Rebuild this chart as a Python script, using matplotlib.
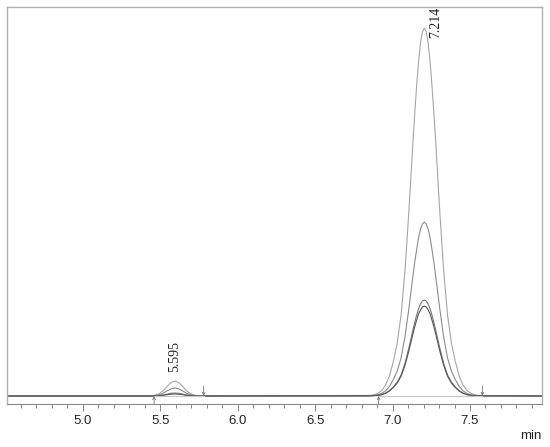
import matplotlib
matplotlib.use("Agg")
import matplotlib.pyplot as plt

# retention times (min), shared by all traces
t_start = [4.51]
t_small = [5.419, 5.444, 5.469, 5.494, 5.519, 5.544, 5.569, 5.594,
           5.619, 5.644, 5.669, 5.694, 5.719, 5.744, 5.769]
t_big = [6.855, 6.88, 6.905, 6.93, 6.955, 6.98, 7.005, 7.03, 7.055, 7.08,
         7.105, 7.13, 7.1425, 7.155, 7.1675, 7.18, 7.1925, 7.205, 7.2175,
         7.23, 7.2425, 7.255, 7.2675, 7.28, 7.305, 7.33, 7.355, 7.38, 7.405,
         7.43, 7.455, 7.48, 7.505, 7.53, 7.555]
t_end = [7.965]

# signal of each trace (arbitrary units), small peak then big peak
s1_small = [0.05, 0.25, 0.9, 2.4, 5.3, 9.6, 13.4, 15, 13.4, 9.6, 5.3, 2.4, 0.9, 0.25, 0.05]
s2_small = [0.03, 0.13, 0.5, 1.3, 2.8, 5.1, 7.1, 8, 7.1, 5.1, 2.8, 1.3, 0.5, 0.13, 0.03]
s3_small = [0, 0.05, 0.18, 0.5, 1.05, 1.9, 2.7, 3, 2.7, 1.9, 1.05, 0.5, 0.18, 0.05, 0]
s4_small = [0, 0.03, 0.12, 0.32, 0.7, 1.3, 1.8, 2, 1.8, 1.3, 0.7, 0.32, 0.12, 0.03, 0]

s1_big = [0.55, 1.3, 2.8, 5.5, 11, 20, 34.6, 53, 81, 125, 184, 250, 281, 309, 334, 352.5, 364, 368,
          364, 352.5, 334, 309, 281, 250, 184, 125, 81, 53, 34.6, 20, 11, 5.5, 2.8, 1.3, 0.55]
s2_big = [0.26, 0.6, 1.3, 2.6, 5.2, 9.6, 16.4, 25, 38, 59, 87, 118, 133, 146, 158, 166.7, 172, 174,
          172, 166.7, 158, 146, 133, 118, 87, 59, 38, 25, 16.4, 9.6, 5.2, 2.6, 1.3, 0.6, 0.26]
s3_big = [0.14, 0.34, 0.7, 1.4, 2.9, 5.3, 9, 14, 21, 32.6, 48, 65, 73, 80.6, 87, 92, 95, 96,
          95, 92, 87, 80.6, 73, 65, 48, 32.6, 21, 14, 9, 5.3, 2.9, 1.4, 0.7, 0.34, 0.14]
s4_big = [0.14, 0.3, 0.7, 1.35, 2.7, 5, 8.5, 13, 19.8, 30.6, 45, 61, 69, 75.6, 82, 86, 89, 90,
          89, 86, 82, 75.6, 69, 61, 45, 30.6, 19.8, 13, 8.5, 5, 2.7, 1.35, 0.7, 0.3, 0.14]

peak_rt = [5.595, 7.214]
peak_label_pos = [(5.594, 24), (7.275, 358)]
integ_start = [5.46, 6.91]
integ_end = [5.78, 7.58]

times = t_start + t_small + t_big + t_end
traces = [
    ([0] + s1_small + s1_big + [0], "#a6a6a6"),
    ([0] + s2_small + s2_big + [0], "#8c8c8c"),
    ([0] + s3_small + s3_big + [0], "#777777"),
    ([0] + s4_small + s4_big + [0], "#555555"),
]

fig = plt.figure(figsize=(5.5, 4.47), dpi=100)
ax = fig.add_axes([7 / 550, 1 - 404 / 447, 535 / 550, 397 / 447])

for sig, col in traces:
    ax.plot(times, sig, color=col, lw=0.8)

# integration baselines and start/end markers
for a, b in zip(integ_start, integ_end):
    ax.plot([a, b], [0, 0], color="#c8c8c8", lw=0.8)
    ax.annotate("", xy=(a, 0), xytext=(a, -8),
                arrowprops=dict(arrowstyle="->", color="#777777", lw=0.6,
                                shrinkA=0, shrinkB=0, mutation_scale=5))
    ax.annotate("", xy=(b, 0), xytext=(b, 10),
                arrowprops=dict(arrowstyle="->", color="#777777", lw=0.6,
                                shrinkA=0, shrinkB=0, mutation_scale=5))

for rt, (x, y) in zip(peak_rt, peak_label_pos):
    ax.text(x, y, f"{rt:.3f}", rotation=90, ha="center", va="bottom",
            fontsize=10, family="Liberation Serif", color="#222222", clip_on=False)

ax.set_xlim(4.51, 7.965)
ax.set_ylim(-8, 389)
ax.set_yticks([])
ax.set_xticks([5.0, 5.5, 6.0, 6.5, 7.0, 7.5])
ax.set_xticks([x / 10 for x in range(46, 80)], minor=True)
ax.tick_params(axis="x", which="major", length=5, width=0.7, color="#888888",
               labelsize=9.5, pad=3, labelcolor="#222222")
ax.tick_params(axis="x", which="minor", length=3, width=0.7, color="#888888")
for lab in ax.get_xticklabels():
    lab.set_family("Liberation Sans")

for side in ["left", "top", "right"]:
    ax.spines[side].set_color("#b0b0b0")
    ax.spines[side].set_linewidth(1.0)
ax.spines["bottom"].set_color("#888888")
ax.spines["bottom"].set_linewidth(0.8)

fig.text(531 / 550, 1 - 436 / 447, "min", ha="center", va="center",
         fontsize=9.5, family="Liberation Sans", color="#222222")

fig.savefig("out.png", dpi=100)
